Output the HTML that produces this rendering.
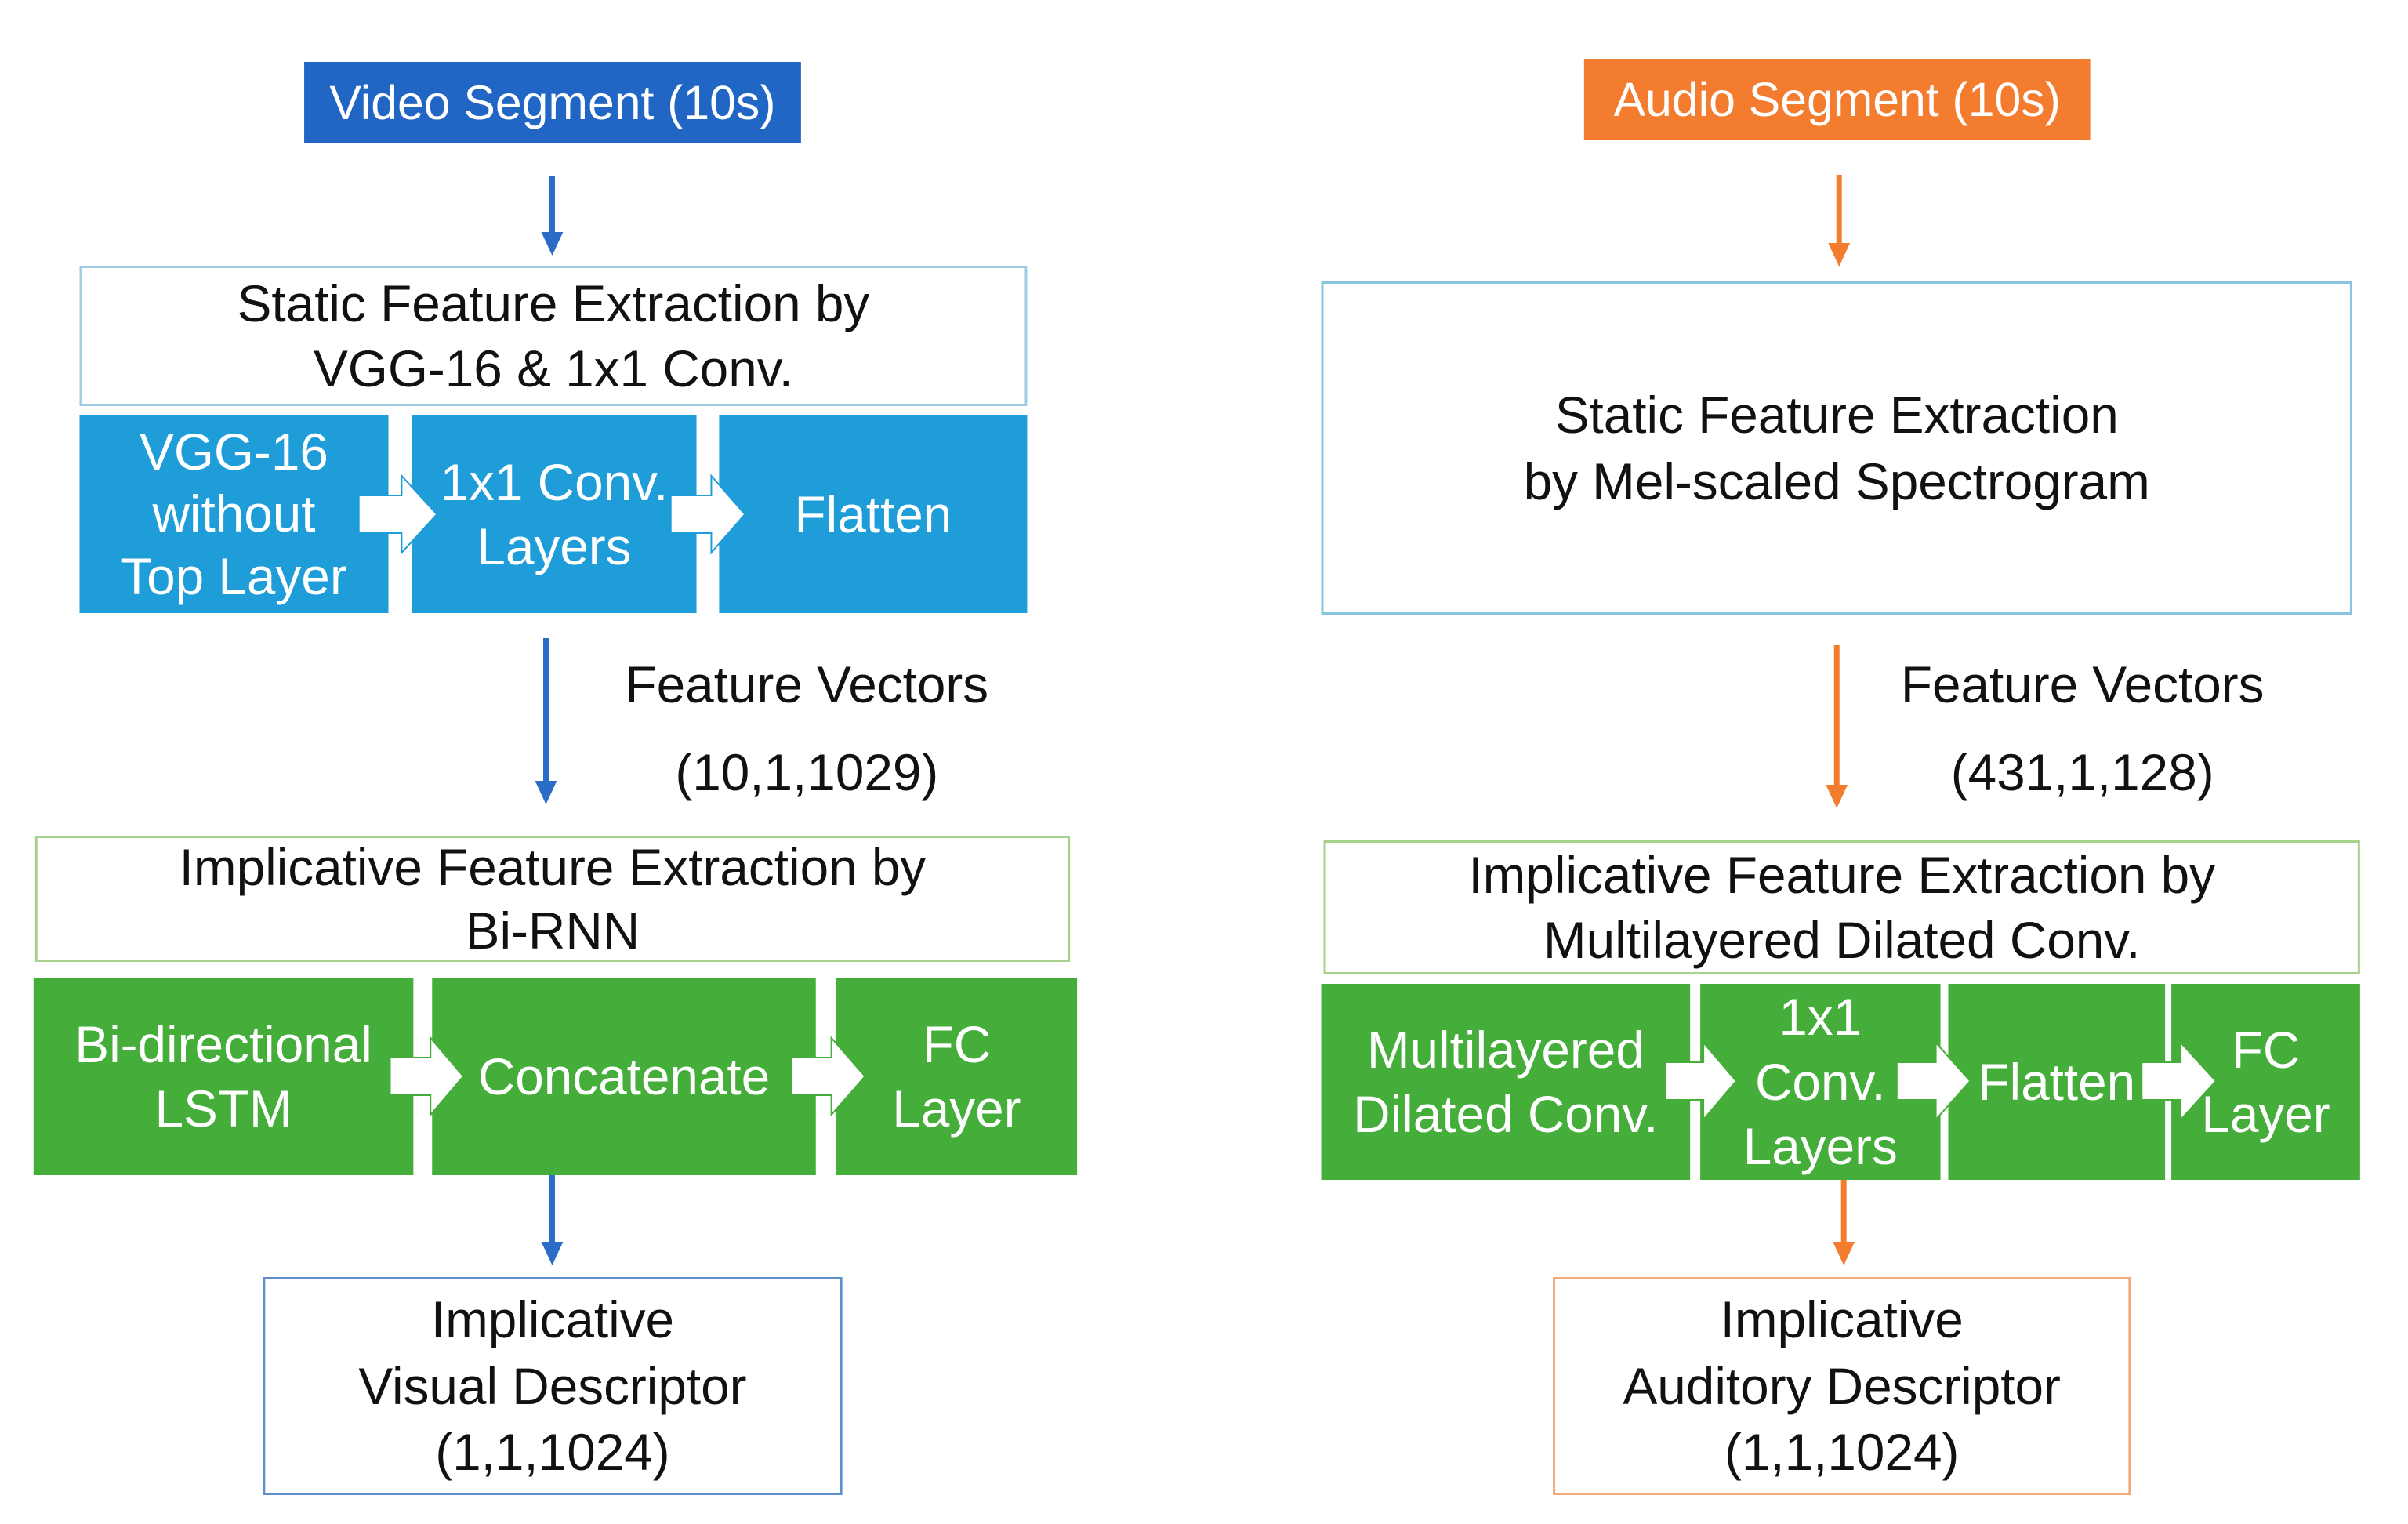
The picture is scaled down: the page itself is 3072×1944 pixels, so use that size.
<!DOCTYPE html>
<html><head><meta charset="utf-8"><style>
html,body{margin:0;padding:0;background:#fff;}
body{width:3072px;height:1944px;position:relative;overflow:hidden;font-family:"Liberation Sans","Noto Sans CJK KR",sans-serif;}
#c{position:absolute;left:0;top:0;width:3072px;height:1944px;transform:scaleX(0.995);transform-origin:0 0;}
.b{position:absolute;box-sizing:border-box;display:flex;flex-direction:column;align-items:center;justify-content:center;text-align:center;line-height:1.25;font-size:66px;color:#111;white-space:nowrap;}
.w{color:#fff;}
svg{position:absolute;left:0;top:0;}
</style></head><body><div id="c">
<!-- left -->
<div class="b w" style="left:390px;top:79px;width:637px;height:104px;background:#2166c4;font-size:61px;">Video Segment (10s)</div>
<div class="b" style="left:102px;top:339px;width:1215px;height:179px;border:3px solid #9fcde6;">Static Feature Extraction by<br>VGG-16 &amp; 1x1 Conv.</div>
<div class="b w" style="left:102px;top:530px;width:396px;height:252px;background:#1e9dd9;line-height:1.2;">VGG-16<br>without<br>Top Layer</div>
<div class="b w" style="left:528px;top:530px;width:365px;height:252px;background:#1e9dd9;line-height:1.25;">1x1 Conv.<br>Layers</div>
<div class="b w" style="left:922px;top:530px;width:395px;height:252px;background:#1e9dd9;">Flatten</div>
<div class="b" style="left:794px;top:835px;width:481px;height:76px;">Feature Vectors</div>
<div class="b" style="left:794px;top:947px;width:481px;height:76px;">(10,1,1029)</div>
<div class="b" style="left:45px;top:1066px;width:1327px;height:161px;border:3px solid #a9d18e;line-height:1.22;">Implicative Feature Extraction by<br>Bi-RNN</div>
<div class="b w" style="left:43px;top:1247px;width:487px;height:252px;background:#45ad3a;line-height:1.25;">Bi-directional<br>LSTM</div>
<div class="b w" style="left:554px;top:1247px;width:492px;height:252px;background:#45ad3a;">Concatenate</div>
<div class="b w" style="left:1072px;top:1247px;width:309px;height:252px;background:#45ad3a;line-height:1.25;">FC<br>Layer</div>
<div class="b" style="left:337px;top:1629px;width:743px;height:278px;border:3px solid #5b8fd0;line-height:1.28;">Implicative<br>Visual Descriptor<br>(1,1,1024)</div>
<!-- right -->
<div class="b w" style="left:2031px;top:75px;width:649px;height:104px;background:#f47c2f;font-size:61px;">Audio Segment (10s)</div>
<div class="b" style="left:1694px;top:359px;width:1322px;height:425px;border:3px solid #8cc3de;line-height:1.28;">Static Feature Extraction<br>by Mel-scaled Spectrogram</div>
<div class="b" style="left:2400px;top:835px;width:540px;height:76px;">Feature Vectors</div>
<div class="b" style="left:2400px;top:947px;width:540px;height:76px;">(431,1,128)</div>
<div class="b" style="left:1697px;top:1072px;width:1329px;height:171px;border:3px solid #a9d18e;line-height:1.25;">Implicative Feature Extraction by<br>Multilayered Dilated Conv.</div>
<div class="b w" style="left:1694px;top:1255px;width:473px;height:250px;background:#45ad3a;line-height:1.25;">Multilayered<br>Dilated Conv.</div>
<div class="b w" style="left:2180px;top:1255px;width:308px;height:250px;background:#45ad3a;line-height:1.25;">1x1<br>Conv.<br>Layers</div>
<div class="b w" style="left:2498px;top:1255px;width:278px;height:250px;background:#45ad3a;">Flatten</div>
<div class="b w" style="left:2784px;top:1255px;width:242px;height:250px;background:#45ad3a;line-height:1.25;">FC<br>Layer</div>
<div class="b" style="left:1991px;top:1629px;width:741px;height:278px;border:3px solid #f2a878;line-height:1.28;">Implicative<br>Auditory Descriptor<br>(1,1,1024)</div>
<svg width="3072" height="1944" viewBox="0 0 3072 1944">
<g stroke="#2a6cc6" stroke-width="7" fill="#2a6cc6">
<line x1="708" y1="224" x2="708" y2="300"/><polygon points="694,296 722,296 708,326" stroke="none"/>
<line x1="700" y1="814" x2="700" y2="1000"/><polygon points="686,996 714,996 700,1026" stroke="none"/>
<line x1="708" y1="1499" x2="708" y2="1588"/><polygon points="694,1584 722,1584 708,1614" stroke="none"/>
</g>
<g stroke="#f47c2f" stroke-width="7" fill="#f47c2f">
<line x1="2358" y1="223" x2="2358" y2="314"/><polygon points="2344,310 2372,310 2358,340" stroke="none"/>
<line x1="2355" y1="823" x2="2355" y2="1005"/><polygon points="2341,1001 2369,1001 2355,1031" stroke="none"/>
<line x1="2364" y1="1505" x2="2364" y2="1588"/><polygon points="2350,1584 2378,1584 2364,1614" stroke="none"/>
</g>
<g fill="#fff" stroke="#1e9dd9" stroke-width="2">
<polygon points="460,632 515,632 515,607 560,656 515,705 515,680 460,680"/>
<polygon points="860,632 912,632 912,607 955,656 912,705 912,680 860,680"/>
</g>
<g fill="#fff" stroke="#45ad3a" stroke-width="2">
<polygon points="500,1349 552,1349 552,1324 594,1373 552,1422 552,1397 500,1397"/>
<polygon points="1015,1349 1066,1349 1066,1324 1109,1373 1066,1422 1066,1397 1015,1397"/>
<polygon points="2135,1355 2184,1355 2184,1330 2226,1379 2184,1428 2184,1403 2135,1403"/>
<polygon points="2432,1355 2482,1355 2482,1330 2526,1379 2482,1428 2482,1403 2432,1403"/>
<polygon points="2746,1355 2796,1355 2796,1330 2841,1379 2796,1428 2796,1403 2746,1403"/>
</g>
</svg>
</div></body></html>
